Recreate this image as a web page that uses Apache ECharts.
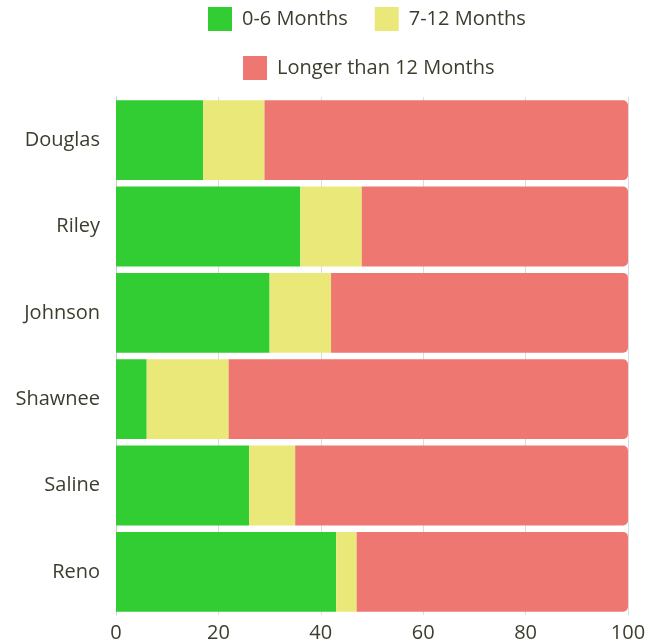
<!DOCTYPE html>
<html>
<head>
<meta charset="utf-8">
<style>
  html, body { margin: 0; padding: 0; background: #fff; }
  #chart { width: 645px; height: 642px; }
</style>
</head>
<body>
<div id="chart"></div>
<script src="https://cdn.jsdelivr.net/npm/echarts@6/dist/echarts.min.js"></script>
<script>
const counties = ['Douglas', 'Riley', 'Johnson', 'Shawnee', 'Saline', 'Reno'];
const months0to6 = [17, 36, 30, 6, 26, 43];
const months7to12 = [12, 12, 12, 16, 9, 4];
const over12 = [71, 52, 58, 78, 65, 53];
const xTicks = [0, 20, 40, 60, 80, 100];

const txtColor = '#3d3d2e';
const font = '"Open Sans", "Noto Sans", sans-serif';

let chart = echarts.init(document.getElementById('chart'));

const legendText = { fontFamily: font, fontSize: 20, color: txtColor, padding: [0, 0, 0, 5] };

let option = {
    animation: false,
    textStyle: { fontFamily: font },
    legend: [
        {
            data: ['0-6 Months', '7-12 Months'],
            left: 208, top: 7, padding: 0,
            itemWidth: 24, itemHeight: 24, itemGap: 27,
            icon: 'rect',
            textStyle: legendText
        },
        {
            data: ['Longer than 12 Months'],
            left: 243, top: 56, padding: 0,
            itemWidth: 24, itemHeight: 24,
            icon: 'rect',
            textStyle: legendText
        }
    ],
    grid: { left: 116, right: 17, top: 97, bottom: 27, containLabel: false, outerBoundsMode: 'none' },
    xAxis: {
        type: 'value',
        min: 0, max: 100, interval: 20,
        axisLine: { show: false },
        axisTick: { show: false },
        splitLine: { lineStyle: { color: '#dcdcdc' } },
        axisLabel: {
            fontFamily: font, fontSize: 20, color: txtColor, margin: 8,
            formatter: v => xTicks.includes(v) ? String(v) : ''
        }
    },
    yAxis: {
        type: 'category',
        data: counties,
        inverse: true,
        axisLine: { show: true, lineStyle: { color: '#cccccc' } },
        axisTick: { show: false },
        axisLabel: { fontFamily: font, fontSize: 20, color: txtColor, margin: 16 }
    },
    series: [
        {
            name: '0-6 Months', type: 'bar', stack: 'a',
            barCategoryGap: '7.5%',
            itemStyle: { color: '#32cd32' },
            data: months0to6
        },
        {
            name: '7-12 Months', type: 'bar', stack: 'a',
            itemStyle: { color: '#ebe87a' },
            data: months7to12
        },
        {
            name: 'Longer than 12 Months', type: 'bar', stack: 'a',
            itemStyle: { color: '#ee7772', borderRadius: [0, 5, 5, 0] },
            data: over12
        }
    ]
};

chart.setOption(option);
</script>
</body>
</html>
